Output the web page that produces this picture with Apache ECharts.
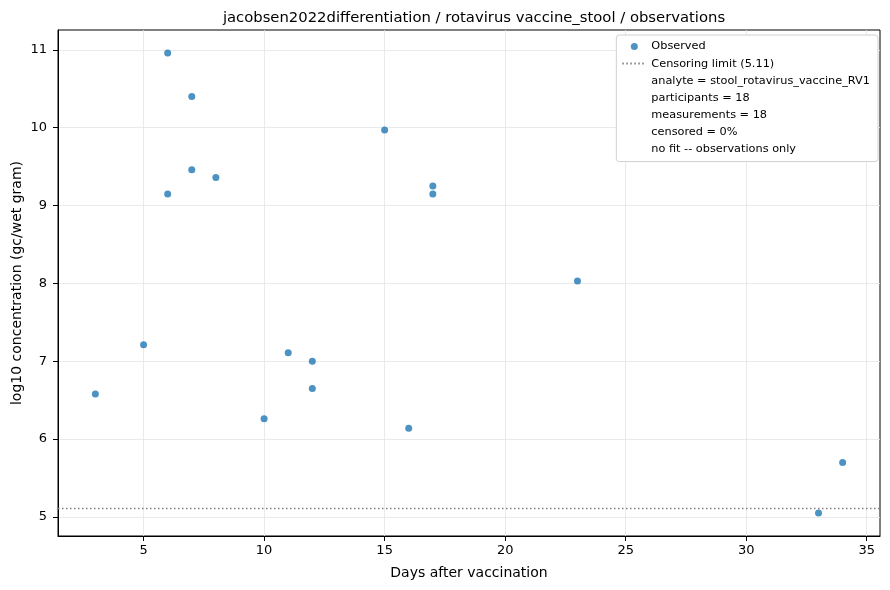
<!DOCTYPE html>
<html>
<head>
    <meta charset="UTF-8">
    <title>jacobsen2022differentiation observations</title>
    <script src="https://cdn.jsdelivr.net/npm/echarts@6/dist/echarts.min.js"></script>
</head>
<body style="margin: 0; background: #fff;">
<div id="chart" style="width: 890px; height: 590px;"></div>
<script>
    // observations
    var days = [3, 5, 6, 6, 7, 7, 8, 10, 11, 12, 12, 15, 16, 17, 17, 23, 33, 34];
    var log10Conc = [6.58, 7.21, 10.96, 9.15, 10.40, 9.46, 9.36, 6.26, 7.11, 7.00, 6.65, 9.97, 6.14, 9.25, 9.15, 8.03, 5.05, 5.70];
    var censorLimit = 5.11;
    var xTicks = [5, 10, 15, 20, 25, 30, 35];
    var yTicks = [5, 6, 7, 8, 9, 10, 11];
    var infoLines = [
        'analyte = stool_rotavirus_vaccine_RV1',
        'participants = 18',
        'measurements = 18',
        'censored = 0%',
        'no fit -- observations only'
    ];

    var points = days.map(function (d, i) {
        return [d, log10Conc[i]];
    });

    var font = 'DejaVu Sans';
    var chart = echarts.init(document.getElementById('chart'));
    var censorName = 'Censoring limit (' + censorLimit + ')';
    var dotted = {color: '#808080', width: 1.3, type: [1.5, 2.5]};

    var legendData = [
        {name: 'Observed', icon: 'circle'},
        {name: censorName, itemStyle: {opacity: 0}}
    ];
    var series = [
        {
            name: 'Observed',
            type: 'scatter',
            symbolSize: 7,
            itemStyle: {color: '#1f77b4', opacity: 0.8},
            data: points,
            z: 3
        },
        {
            name: censorName,
            type: 'line',
            symbol: 'none',
            data: [],
            lineStyle: dotted,
            itemStyle: {color: '#808080'},
            markLine: {
                silent: true,
                symbol: 'none',
                label: {show: false},
                lineStyle: dotted,
                data: [{yAxis: censorLimit}]
            }
        }
    ];
    infoLines.forEach(function (t) {
        legendData.push({name: t, icon: 'rect', itemStyle: {opacity: 0}});
        series.push({name: t, type: 'scatter', data: [], itemStyle: {color: 'rgba(0,0,0,0)'}});
    });

    var option = {
        animation: false,
        textStyle: {fontFamily: font},
        title: {
            text: 'jacobsen2022differentiation / rotavirus vaccine_stool / observations',
            left: 469,
            textAlign: 'center',
            top: 6,
            textStyle: {fontFamily: font, fontSize: 14.8, fontWeight: 'normal', color: '#000'}
        },
        legend: {
            orient: 'vertical',
            right: 12,
            top: 35,
            data: legendData,
            itemWidth: 24,
            itemHeight: 7,
            itemGap: 6.1,
            padding: [6, 8, 7, 5],
            backgroundColor: '#fff',
            borderColor: '#d0d0d0',
            borderWidth: 1,
            borderRadius: 3,
            selectedMode: false,
            textStyle: {fontFamily: font, fontSize: 11.3, color: '#000'}
        },
        grid: {
            left: 58,
            right: 10,
            top: 30,
            bottom: 54,
            outerBoundsMode: 'none',
            show: true,
            borderColor: '#000',
            borderWidth: 1
        },
        xAxis: {
            type: 'value',
            min: 1.45,
            max: 35.55,
            name: 'Days after vaccination',
            nameLocation: 'middle',
            nameGap: 30,
            nameTextStyle: {fontFamily: font, fontSize: 14, color: '#000'},
            axisLine: {show: true, lineStyle: {color: '#000'}},
            axisTick: {show: true, length: 5, customValues: xTicks, lineStyle: {color: '#000'}},
            axisLabel: {customValues: xTicks, fontSize: 13, color: '#000', margin: 8},
            splitLine: {show: true, lineStyle: {color: '#e4e4e4', width: 0.8}}
        },
        yAxis: {
            type: 'value',
            min: 4.754,
            max: 11.256,
            name: 'log10 concentration (gc/wet gram)',
            nameLocation: 'middle',
            nameGap: 34,
            nameMoveOverlap: false,
            nameTextStyle: {fontFamily: font, fontSize: 14, color: '#000'},
            axisLine: {show: true, lineStyle: {color: '#000'}},
            axisTick: {show: true, length: 5, customValues: yTicks, lineStyle: {color: '#000'}},
            axisLabel: {customValues: yTicks, fontSize: 13, color: '#000', margin: 11},
            splitLine: {show: true, lineStyle: {color: '#e4e4e4', width: 0.8}}
        },
        series: series
    };
    chart.setOption(option);
</script>
</body>
</html>
